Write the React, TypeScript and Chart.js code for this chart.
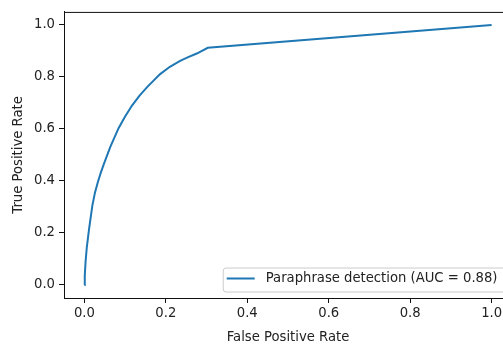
import { useEffect, useRef } from "react";
import { Chart, registerables } from "chart.js";

Chart.register(...registerables);

// ROC curve values
const fprValues = [0, 0.001, 0.003, 0.006, 0.0115, 0.0196, 0.026, 0.033, 0.04, 0.048, 0.0637, 0.084, 0.1, 0.117, 0.135, 0.154, 0.186, 0.21, 0.235, 0.255, 0.276, 0.303, 1.0];
const tprValues = [0, 0.035, 0.09, 0.145, 0.215, 0.305, 0.355, 0.395, 0.43, 0.466, 0.531, 0.603, 0.648, 0.69, 0.727, 0.761, 0.811, 0.839, 0.862, 0.876, 0.89, 0.912, 1.0];
const xTickValues = [0, 0.2, 0.4, 0.6, 0.8, 1.0];
const yTickValues = [0, 0.2, 0.4, 0.6, 0.8, 1.0];
const seriesLabel = "Paraphrase detection (AUC = 0.88)";
const xTitle = "False Positive Rate";
const yTitle = "True Positive Rate";

const FONT = "'DejaVu Sans', sans-serif";
const FS = 13.2;
const TEXT = "#222";
const LINE = "#1f77b4";

const framePlugin = {
  id: "frame",
  afterDatasetsDraw(chart: any) {
    const { ctx, chartArea } = chart;
    const { left, top, right } = chartArea;
    ctx.save();
    ctx.strokeStyle = "#111";
    ctx.lineWidth = 1;
    ctx.beginPath();
    ctx.moveTo(left, top + 0.5);
    ctx.lineTo(right + 0.5, top + 0.5);
    ctx.lineTo(right + 0.5, chartArea.bottom);
    ctx.stroke();
    ctx.restore();
  },
};

const legendPlugin = {
  id: "innerLegend",
  afterDatasetsDraw(chart: any) {
    const { ctx, chartArea } = chart;
    const ds = chart.data.datasets[0];
    ctx.save();
    ctx.font = `${FS}px ${FONT}`;
    const tw = ctx.measureText(ds.label).width;
    const right = chartArea.right - 6.5;
    const bottom = chartArea.bottom - 6.5;
    const h = 24;
    const w = 4 + 28 + 11 + tw + 8;
    const left = right - w;
    const top = bottom - h;
    ctx.beginPath();
    (ctx as any).roundRect(left + 0.5, top + 0.5, w, h, 3);
    ctx.fillStyle = "rgba(255,255,255,0.8)";
    ctx.fill();
    ctx.strokeStyle = "#cccccc";
    ctx.lineWidth = 1;
    ctx.stroke();
    const cy = top + 11;
    ctx.beginPath();
    ctx.moveTo(left + 4, cy);
    ctx.lineTo(left + 32, cy);
    ctx.strokeStyle = ds.borderColor;
    ctx.lineWidth = 2;
    ctx.stroke();
    ctx.fillStyle = TEXT;
    ctx.textBaseline = "middle";
    ctx.textAlign = "left";
    ctx.fillText(ds.label, left + 43, cy + 0.5);
    ctx.restore();
  },
};

export default function App() {
  const canvasRef = useRef<HTMLCanvasElement | null>(null);

  useEffect(() => {
    const canvas = canvasRef.current;
    if (!canvas) return;
    const points = fprValues.map((x, i) => ({ x, y: tprValues[i] }));
    const chart = new Chart(canvas, {
      type: "scatter",
      data: {
        datasets: [
          {
            label: seriesLabel,
            data: points,
            showLine: true,
            borderColor: LINE,
            backgroundColor: LINE,
            borderWidth: 2,
            pointRadius: 0,
            tension: 0,
          },
        ],
      },
      options: {
        responsive: false,
        animation: false,
        devicePixelRatio: 1,
        layout: { padding: { top: 7, right: 28, left: 0, bottom: 0 } },
        plugins: { legend: { display: false }, tooltip: { enabled: false } },
        scales: {
          x: {
            type: "linear",
            min: -0.05,
            max: 1.05,
            afterBuildTicks: (scale: any) => {
              scale.ticks = xTickValues.map((v) => ({ value: v }));
            },
            afterFit: (scale: any) => {
              scale.height = 47;
            },
            ticks: {
              font: { family: FONT, size: FS },
              color: TEXT,
              padding: 3,
              maxRotation: 0,
              callback: (v: any) => Number(v).toFixed(1),
            },
            grid: {
              drawOnChartArea: false,
              drawTicks: true,
              tickLength: 5,
              color: "#111",
              lineWidth: 1,
            },
            border: { display: true, color: "#111", width: 1 },
            title: {
              display: true,
              text: xTitle,
              font: { family: FONT, size: FS },
              color: TEXT,
              padding: { top: 7, bottom: 0 },
            },
          },
          y: {
            type: "linear",
            min: -0.05,
            max: 1.05,
            afterBuildTicks: (scale: any) => {
              scale.ticks = yTickValues.map((v) => ({ value: v }));
            },
            afterFit: (scale: any) => {
              scale.width = 64;
            },
            ticks: {
              font: { family: FONT, size: FS },
              color: TEXT,
              padding: 4,
              callback: (v: any) => Number(v).toFixed(1),
            },
            grid: {
              drawOnChartArea: false,
              drawTicks: true,
              tickLength: 5,
              color: "#111",
              lineWidth: 1,
            },
            border: { display: true, color: "#111", width: 1 },
            title: {
              display: true,
              text: yTitle,
              font: { family: FONT, size: FS },
              color: TEXT,
              padding: { top: 11, bottom: 0 },
            },
          },
        },
      },
      plugins: [framePlugin, legendPlugin],
    });
    return () => chart.destroy();
  }, []);

  return (
    <div style={{ position: "fixed", left: 0, top: 0, width: 540, height: 345, background: "#fff" }}>
      <canvas ref={canvasRef} width={540} height={345} style={{ display: "block" }} />
    </div>
  );
}
